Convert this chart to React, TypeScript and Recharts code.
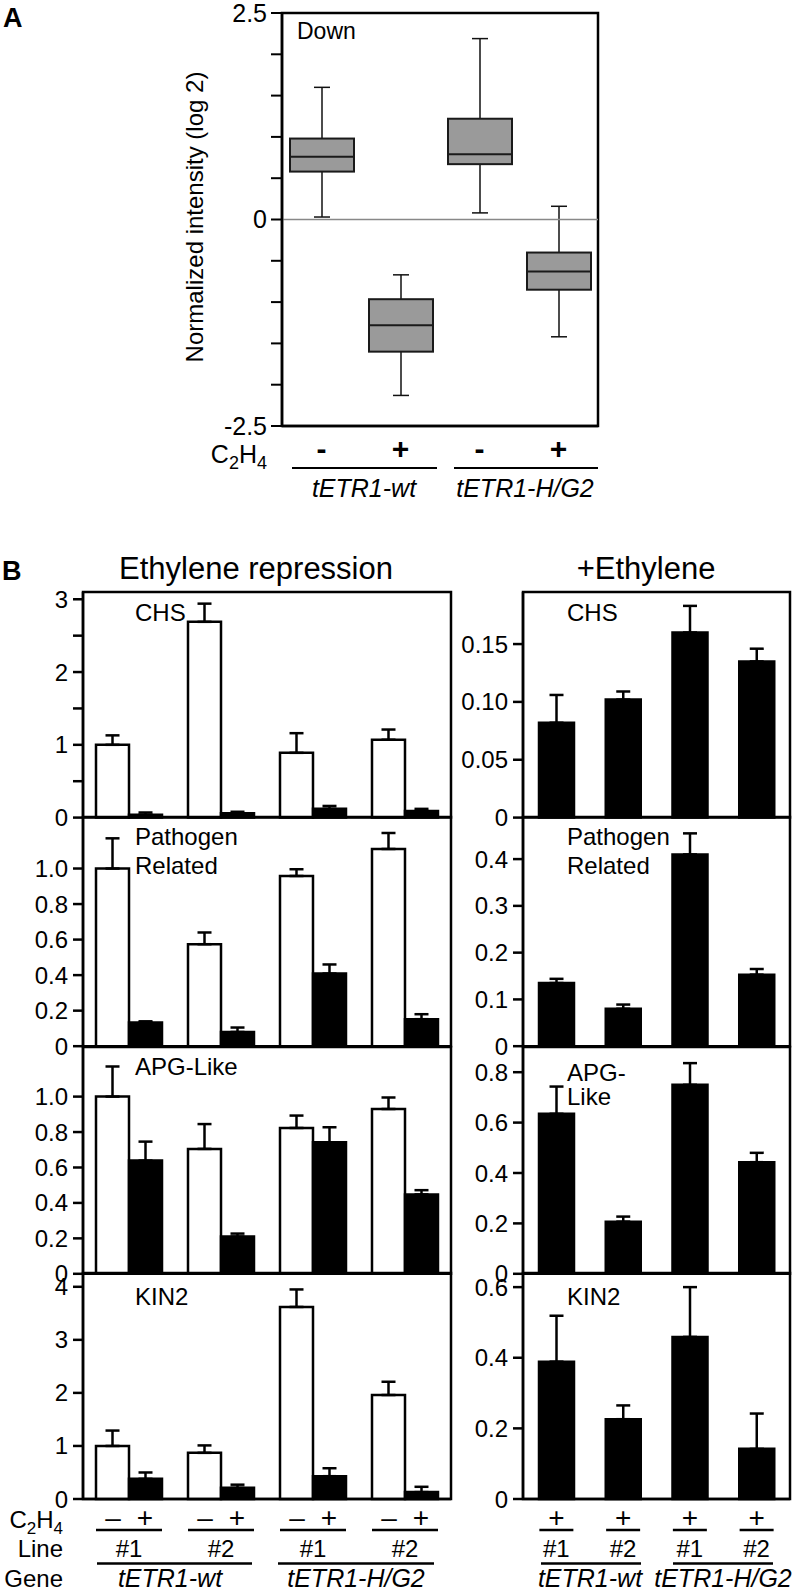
import React from 'react';
import { BarChart, Bar, ComposedChart, XAxis, YAxis, ErrorBar, ReferenceLine, ReferenceArea } from 'recharts';

const FONT = '"Liberation Sans", Arial, Helvetica, sans-serif';

// ── Panel A: "Down" genes, normalized intensity (log 2) ──
const boxConditions = ['-', '+', '-', '+'];
const boxLows = [0.03, -2.13, 0.08, -1.42];
const boxQ1s = [0.58, -1.6, 0.67, -0.85];
const boxMedians = [0.76, -1.28, 0.79, -0.63];
const boxQ3s = [0.98, -0.965, 1.22, -0.4];
const boxHighs = [1.6, -0.67, 2.19, 0.16];
const boxTicks = [-2.5, -2, -1.5, -1, -0.5, 0, 0.5, 1, 1.5, 2, 2.5];
const boxTickLabels = ['-2.5', '', '', '', '', '0', '', '', '', '', '2.5'];

// ── Panel B ──
const groupKeys = ['wt-1', 'wt-2', 'hg-1', 'hg-2'];
const lineLabels = ['#1', '#2', '#1', '#2'];
const geneNames = ['tETR1-wt', 'tETR1-H/G2'];

// Ethylene repression: white = -C2H4, black = +C2H4 (errors are upper only)
const chsMinus = [1.0, 2.69, 0.89, 1.07];
const chsMinusErr = [0.13, 0.25, 0.27, 0.14];
const chsPlus = [0.04, 0.06, 0.12, 0.09];
const chsPlusErr = [0.03, 0.02, 0.04, 0.03];
const prMinus = [1.0, 0.574, 0.958, 1.11];
const prMinusErr = [0.17, 0.066, 0.038, 0.09];
const prPlus = [0.133, 0.08, 0.409, 0.152];
const prPlusErr = [0.007, 0.025, 0.051, 0.028];
const apgMinus = [1.0, 0.705, 0.823, 0.93];
const apgMinusErr = [0.17, 0.14, 0.07, 0.065];
const apgPlus = [0.639, 0.21, 0.742, 0.448];
const apgPlusErr = [0.107, 0.017, 0.085, 0.024];
const kinMinus = [1.0, 0.87, 3.62, 1.96];
const kinMinusErr = [0.29, 0.14, 0.33, 0.25];
const kinPlus = [0.38, 0.21, 0.43, 0.13];
const kinPlusErr = [0.12, 0.06, 0.15, 0.1];

// +Ethylene
const chsEth = [0.082, 0.102, 0.16, 0.135];
const chsEthErr = [0.024, 0.007, 0.023, 0.011];
const prEth = [0.135, 0.08, 0.41, 0.153];
const prEthErr = [0.009, 0.009, 0.045, 0.012];
const apgEth = [0.635, 0.207, 0.75, 0.443];
const apgEthErr = [0.108, 0.02, 0.086, 0.037];
const kinEth = [0.389, 0.226, 0.459, 0.142];
const kinEthErr = [0.13, 0.039, 0.141, 0.1];

// tick values and their labels
const chsRepTicks = [0, 0.5, 1, 1.5, 2, 2.5, 3];
const chsRepLabels = ['0', '', '1', '', '2', '', '3'];
const fracTicks = [0, 0.2, 0.4, 0.6, 0.8, 1.0];
const fracLabels = ['0', '0.2', '0.4', '0.6', '0.8', '1.0'];
const kinRepTicks = [0, 1, 2, 3, 4];
const kinRepLabels = ['0', '1', '2', '3', '4'];
const chsEthTicks = [0, 0.05, 0.1, 0.15];
const chsEthLabels = ['0', '0.05', '0.10', '0.15'];
const prEthTicks = [0, 0.1, 0.2, 0.3, 0.4];
const prEthLabels = ['0', '0.1', '0.2', '0.3', '0.4'];
const apgEthTicks = [0, 0.2, 0.4, 0.6, 0.8];
const apgEthLabels = ['0', '0.2', '0.4', '0.6', '0.8'];
const kinEthTicks = [0, 0.2, 0.4, 0.6];
const kinEthLabels = ['0', '0.2', '0.4', '0.6'];

// ── Layout ──
const rowEdges = [591.7, 817.3, 1046.5, 1273.3, 1499.3];
const PAD = 16;
const AXIS = { stroke: '#000', strokeWidth: 2.5 };
const TICK_LINE = { stroke: '#000', strokeWidth: 2.5 };

const repressionRows = [
  { minus: chsMinus, minusErr: chsMinusErr, plus: chsPlus, plusErr: chsPlusErr, domain: [0, 3.1], ticks: chsRepTicks, labels: chsRepLabels },
  { minus: prMinus, minusErr: prMinusErr, plus: prPlus, plusErr: prPlusErr, domain: [0, 1.29], ticks: fracTicks, labels: fracLabels },
  { minus: apgMinus, minusErr: apgMinusErr, plus: apgPlus, plusErr: apgPlusErr, domain: [0, 1.28], ticks: fracTicks, labels: fracLabels },
  { minus: kinMinus, minusErr: kinMinusErr, plus: kinPlus, plusErr: kinPlusErr, domain: [0, 4.26], ticks: kinRepTicks, labels: kinRepLabels },
];

const ethyleneRows = [
  { eth: chsEth, ethErr: chsEthErr, domain: [0, 0.195], ticks: chsEthTicks, labels: chsEthLabels },
  { eth: prEth, ethErr: prEthErr, domain: [0, 0.49], ticks: prEthTicks, labels: prEthLabels },
  { eth: apgEth, ethErr: apgEthErr, domain: [0, 0.9], ticks: apgEthTicks, labels: apgEthLabels },
  { eth: kinEth, ethErr: kinEthErr, domain: [0, 0.64], ticks: kinEthTicks, labels: kinEthLabels },
];

// ── Panel A pieces ──
const boxData = boxConditions.map((c, i) => ({
  key: `${c}${i}`,
  sign: c,
  box: [boxQ1s[i], boxQ3s[i]],
  low: boxLows[i],
  q1: boxQ1s[i],
  median: boxMedians[i],
  q3: boxQ3s[i],
  high: boxHighs[i],
}));

function BoxShape(props: any) {
  const { x, y, width, height, payload } = props;
  const top = Math.min(y, y + height);
  const h = Math.abs(height);
  const ppu = h / (payload.q3 - payload.q1);
  const py = (v: number) => top + (payload.q3 - v) * ppu;
  const cx = x + width / 2;
  const cap = 8;
  return (
    <g>
      <line x1={cx} x2={cx} y1={py(payload.high)} y2={top} stroke="#111" strokeWidth={1.5} />
      <line x1={cx} x2={cx} y1={top + h} y2={py(payload.low)} stroke="#111" strokeWidth={1.5} />
      <line x1={cx - cap} x2={cx + cap} y1={py(payload.high)} y2={py(payload.high)} stroke="#111" strokeWidth={1.5} />
      <line x1={cx - cap} x2={cx + cap} y1={py(payload.low)} y2={py(payload.low)} stroke="#111" strokeWidth={1.5} />
      <rect x={x} y={top} width={width} height={h} fill="#9a9a9a" stroke="#1a1a1a" strokeWidth={2} />
      <line x1={x} x2={x + width} y1={py(payload.median)} y2={py(payload.median)} stroke="#1a1a1a" strokeWidth={2} />
    </g>
  );
}

function SignTick(props: any) {
  const { x, y, payload, index } = props;
  return (
    <text x={x} y={y + 33} textAnchor="middle" fontSize={30} fontWeight="bold" fontFamily={FONT} fill="#000">
      {boxData[index] ? boxData[index].sign : payload.value}
    </text>
  );
}

// ── Panel B pieces ──
function PairTick(props: any) {
  const { x, y, payload } = props;
  const i = groupKeys.indexOf(payload.value);
  return (
    <g fontFamily={FONT} fontSize={24} fill="#000">
      <text x={x - 16} y={y + 28} textAnchor="middle" fontSize={28}>–</text>
      <text x={x + 16} y={y + 28} textAnchor="middle" fontSize={28}>+</text>
      <line x1={x - 33} x2={x + 33} y1={y + 31} y2={y + 31} stroke="#000" strokeWidth={2.5} />
      <text x={x} y={y + 58} textAnchor="middle">{lineLabels[i]}</text>
    </g>
  );
}

function PlusTick(props: any) {
  const { x, y, payload } = props;
  const i = groupKeys.indexOf(payload.value);
  return (
    <g fontFamily={FONT} fontSize={24} fill="#000">
      <text x={x} y={y + 28} textAnchor="middle" fontSize={28}>+</text>
      <line x1={x - 17} x2={x + 17} y1={y + 31} y2={y + 31} stroke="#000" strokeWidth={2.5} />
      <text x={x} y={y + 58} textAnchor="middle">{lineLabels[i]}</text>
    </g>
  );
}

interface PanelRowProps {
  rowIndex: number;
  left: number;
  yWidth: number;
  plotRight: number;
  barSize: number;
  domain: number[];
  ticks: number[];
  labels: string[];
  data: any[];
  bottomTick: React.ReactElement;
  children: React.ReactNode;
}

function PanelRow({ rowIndex, left, yWidth, plotRight, barSize, domain, ticks, labels, data, bottomTick, children }: PanelRowProps) {
  const top = rowEdges[rowIndex];
  const bottom = rowEdges[rowIndex + 1];
  const last = rowIndex === rowEdges.length - 2;
  const bottomSpace = last ? 70 : PAD;
  const width = plotRight - left + 10;
  const height = PAD + (bottom - top) + bottomSpace;
  return (
    <div style={{ position: 'absolute', left, top: top - PAD }}>
      <BarChart
        width={width}
        height={height}
        data={data}
        barSize={barSize}
        barGap={0}
        margin={{ top: PAD, right: 10, left: 0, bottom: last ? 0 : bottomSpace }}
      >
        <XAxis
          dataKey="key"
          axisLine={AXIS}
          tickLine={false}
          tickSize={0}
          tickMargin={0}
          interval={0}
          height={last ? bottomSpace : 0}
          tick={last ? bottomTick : false}
        />
        <YAxis
          type="number"
          domain={domain}
          ticks={ticks}
          interval={0}
          width={yWidth}
          axisLine={AXIS}
          tickLine={TICK_LINE}
          tickSize={10}
          tickMargin={5}
          tickFormatter={(v: number) => labels[ticks.indexOf(v)] ?? ''}
          tick={{ fontSize: 24, fill: '#000', fontFamily: FONT }}
        />
        {/* panel frame */}
        <ReferenceArea y1={domain[0]} y2={domain[1]} fill="none" stroke="#000" strokeWidth={2.5} ifOverflow="visible" />
        {children}
      </BarChart>
    </div>
  );
}

function C2H4({ x, y, anchor, size }: { x: number; y: number; anchor: 'start' | 'end'; size: number }) {
  const s = Math.round(size * 0.72);
  return (
    <text x={x} y={y} textAnchor={anchor} fontSize={size} fontFamily={FONT} fill="#000">
      C<tspan dy={6} fontSize={s}>2</tspan>
      <tspan dy={-6}>H</tspan>
      <tspan dy={6} fontSize={s}>4</tspan>
    </text>
  );
}

export default function App() {
  return (
    <div style={{ position: 'absolute', left: 0, top: 0, width: 797, height: 1593, background: '#fff', fontFamily: FONT }}>
      {/* Panel A */}
      <div style={{ position: 'absolute', left: 0, top: 0 }}>
        <ComposedChart width={620} height={470} data={boxData} barSize={64} margin={{ top: 13, right: 22, bottom: 0, left: 222 }}>
          <XAxis dataKey="key" axisLine={AXIS} tickLine={false} tickSize={0} tickMargin={0} interval={0} height={44} tick={<SignTick />} />
          <YAxis
            type="number"
            domain={[-2.5, 2.5]}
            ticks={boxTicks}
            interval={0}
            width={60}
            axisLine={AXIS}
            tickLine={{ stroke: '#000', strokeWidth: 2 }}
            tickSize={11}
            tickMargin={4}
            tickFormatter={(v: number) => boxTickLabels[boxTicks.indexOf(v)] ?? ''}
            tick={{ fontSize: 25, fill: '#000', fontFamily: FONT }}
          />
          <ReferenceArea y1={-2.5} y2={2.5} fill="none" stroke="#000" strokeWidth={2.5} ifOverflow="visible" />
          <ReferenceLine y={0} stroke="#888" strokeWidth={1.5} />
          <Bar dataKey="box" shape={<BoxShape />} isAnimationActive={false} />
        </ComposedChart>
      </div>

      {/* Panel B, left column: ethylene repression */}
      {repressionRows.map((r, ri) => (
        <PanelRow
          key={`rep-${ri}`}
          rowIndex={ri}
          left={0}
          yWidth={83}
          plotRight={451}
          barSize={33}
          domain={r.domain}
          ticks={r.ticks}
          labels={r.labels}
          bottomTick={<PairTick />}
          data={groupKeys.map((key, i) => ({
            key,
            minus: r.minus[i],
            minusErr: [0, r.minusErr[i]],
            plus: r.plus[i],
            plusErr: [0, r.plusErr[i]],
          }))}
        >
          <Bar dataKey="minus" fill="#fff" stroke="#000" strokeWidth={2.5} isAnimationActive={false}>
            <ErrorBar dataKey="minusErr" width={7} stroke="#000" strokeWidth={2.5} isAnimationActive={false} />
          </Bar>
          <Bar dataKey="plus" fill="#000" stroke="#000" strokeWidth={2.5} isAnimationActive={false}>
            <ErrorBar dataKey="plusErr" width={7} stroke="#000" strokeWidth={2.5} isAnimationActive={false} />
          </Bar>
        </PanelRow>
      ))}

      {/* Panel B, right column: +ethylene */}
      {ethyleneRows.map((r, ri) => (
        <PanelRow
          key={`eth-${ri}`}
          rowIndex={ri}
          left={443}
          yWidth={80}
          plotRight={790}
          barSize={35}
          domain={r.domain}
          ticks={r.ticks}
          labels={r.labels}
          bottomTick={<PlusTick />}
          data={groupKeys.map((key, i) => ({ key, eth: r.eth[i], ethErr: [0, r.ethErr[i]] }))}
        >
          <Bar dataKey="eth" fill="#000" stroke="#000" strokeWidth={2.5} isAnimationActive={false}>
            <ErrorBar dataKey="ethErr" width={7} stroke="#000" strokeWidth={2.5} isAnimationActive={false} />
          </Bar>
        </PanelRow>
      ))}

      {/* Text annotations */}
      <svg width={797} height={1593} style={{ position: 'absolute', left: 0, top: 0, pointerEvents: 'none' }} fontFamily={FONT} fill="#000">
        <text x={3} y={27} fontSize={27} fontWeight="bold">A</text>
        <text x={2} y={580} fontSize={27} fontWeight="bold">B</text>

        {/* panel A */}
        <text x={297} y={39} fontSize={23}>Down</text>
        <text transform="translate(203,217) rotate(-90)" textAnchor="middle" fontSize={24}>Normalized intensity (log 2)</text>
        <C2H4 x={267} y={463} anchor="end" size={25} />
        <line x1={292} x2={437} y1={468} y2={468} stroke="#000" strokeWidth={2} />
        <line x1={454} x2={598} y1={468} y2={468} stroke="#000" strokeWidth={2} />
        <text x={364} y={497} textAnchor="middle" fontSize={25} fontStyle="italic">{geneNames[0]}</text>
        <text x={525} y={497} textAnchor="middle" fontSize={25} fontStyle="italic">{geneNames[1]}</text>

        {/* panel B titles */}
        <text x={256} y={579} textAnchor="middle" fontSize={31}>Ethylene repression</text>
        <text x={646} y={579} textAnchor="middle" fontSize={31}>+Ethylene</text>

        {/* gene names inside plots */}
        <g fontSize={24}>
          <text x={135} y={621}>CHS</text>
          <text x={567} y={621}>CHS</text>
          <text x={135} y={845}>Pathogen</text>
          <text x={135} y={874}>Related</text>
          <text x={567} y={845}>Pathogen</text>
          <text x={567} y={874}>Related</text>
          <text x={135} y={1075}>APG-Like</text>
          <text x={567} y={1081}>APG-</text>
          <text x={567} y={1105}>Like</text>
          <text x={135} y={1305}>KIN2</text>
          <text x={567} y={1305}>KIN2</text>
        </g>

        {/* panel B bottom legend rows */}
        <C2H4 x={63} y={1528} anchor="end" size={24} />
        <text x={63} y={1557} textAnchor="end" fontSize={24}>Line</text>
        <text x={63} y={1587} textAnchor="end" fontSize={24}>Gene</text>
        <line x1={97} x2={252} y1={1563.5} y2={1563.5} stroke="#000" strokeWidth={2.5} />
        <line x1={278} x2={434} y1={1563.5} y2={1563.5} stroke="#000" strokeWidth={2.5} />
        <line x1={541} x2={641} y1={1563.5} y2={1563.5} stroke="#000" strokeWidth={2.5} />
        <line x1={673} x2={773} y1={1563.5} y2={1563.5} stroke="#000" strokeWidth={2.5} />
        <g fontSize={25} fontStyle="italic" textAnchor="middle">
          <text x={170} y={1587}>{geneNames[0]}</text>
          <text x={356} y={1587}>{geneNames[1]}</text>
          <text x={590} y={1587}>{geneNames[0]}</text>
          <text x={723} y={1587}>{geneNames[1]}</text>
        </g>
      </svg>
    </div>
  );
}
